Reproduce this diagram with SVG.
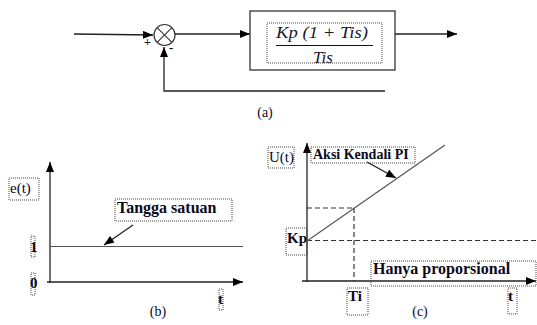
<svg xmlns="http://www.w3.org/2000/svg" width="537" height="325" viewBox="0 0 537 325">
<style>
.ln{stroke:#222;stroke-width:1.3;fill:none}
.gl{stroke:#555;stroke-width:1.2;fill:none}
.dash{stroke:#333;stroke-width:1.2;fill:none;stroke-dasharray:5,3}
.dot{stroke:#333;stroke-width:0.9;fill:none;stroke-dasharray:1,1}
.lb{font-family:"Liberation Serif",serif;fill:#0a0a1e}
.b{font-weight:bold}
.m{font-family:"Liberation Serif",serif;font-style:italic;fill:#1a1a2e}
</style>
<defs>
<marker id="ah" viewBox="0 0 10 8" refX="10" refY="4" markerWidth="11" markerHeight="8" markerUnits="userSpaceOnUse" orient="auto">
<path d="M0,0 L10,4 L0,8 Z" fill="#000"/>
</marker>
</defs>
<rect width="537" height="325" fill="#fff"/>

<g id="connectors">
<line class="ln" x1="74" y1="34" x2="153" y2="35" marker-end="url(#ah)"/>
<line class="ln" x1="175" y1="34" x2="250" y2="34" marker-end="url(#ah)"/>
<line class="ln" x1="395" y1="34" x2="457" y2="34" marker-end="url(#ah)"/>
<polyline class="ln" points="385,91 164,91 164,47" marker-end="url(#ah)"/>
</g>

<g id="sum">
<circle cx="164.5" cy="35" r="10.5" fill="#fff" stroke="#333" stroke-width="1.2"/>
<line x1="157.1" y1="27.6" x2="171.9" y2="42.4" stroke="#333" stroke-width="1.1"/>
<line x1="171.9" y1="27.6" x2="157.1" y2="42.4" stroke="#333" stroke-width="1.1"/>
<text class="lb b" x="144" y="46" font-size="12">+</text>
<text class="lb b" x="169" y="52" font-size="13">-</text>
</g>

<g id="controller">
<rect x="250" y="11" width="145" height="59" fill="#fff" stroke="#333" stroke-width="1.3"/>
<rect class="dot" x="267" y="23" width="115" height="40"/>
<text class="m" x="276" y="38" font-size="17" textLength="92" lengthAdjust="spacingAndGlyphs">Kp (1 + Tis)</text>
<line x1="276" y1="45.5" x2="373" y2="45.5" stroke="#111" stroke-width="1.2"/>
<text class="m" x="323" y="63" font-size="17" text-anchor="middle">Tis</text>
</g>

<text class="lb" x="265" y="117" font-size="14" text-anchor="middle">(a)</text>

<g id="plot-b">
<line class="ln" x1="50" y1="283" x2="50" y2="162" marker-end="url(#ah)"/>
<line class="ln" x1="47" y1="282" x2="243" y2="282" marker-end="url(#ah)"/>
<line class="gl" x1="50" y1="246.5" x2="243" y2="246.5"/>
<line class="ln" x1="133" y1="225" x2="104" y2="245" marker-end="url(#ah)"/>
<rect class="dot" x="9" y="178" width="30" height="22"/>
<text class="lb" x="10" y="193" font-size="15">e(t)</text>
<rect class="dot" x="115" y="199" width="117" height="22"/>
<text class="lb b" x="117" y="213" font-size="16">Tangga satuan</text>
<rect class="dot" x="31" y="236" width="4" height="21"/>
<text class="lb b" x="30" y="252" font-size="15">1</text>
<rect class="dot" x="31" y="273" width="4" height="22"/>
<text class="lb b" x="30" y="288" font-size="15">0</text>
<rect class="dot" x="219" y="289" width="4" height="21"/>
<text class="lb b" x="218" y="304" font-size="15">t</text>
<text class="lb" x="158" y="316" font-size="14" text-anchor="middle">(b)</text>
</g>

<g id="plot-c">
<line class="dash" x1="307" y1="240.5" x2="537" y2="240.5"/>
<line class="dash" x1="307" y1="208" x2="354" y2="208"/>
<line class="dash" x1="354" y1="208" x2="354" y2="281"/>
<line class="ln" x1="307" y1="282" x2="307" y2="143" marker-end="url(#ah)"/>
<line class="ln" x1="302" y1="281" x2="536" y2="281" marker-end="url(#ah)"/>
<line class="gl" x1="307" y1="241" x2="445" y2="145"/>
<line class="ln" x1="367" y1="162" x2="396" y2="178" marker-end="url(#ah)"/>
<rect class="dot" x="268" y="147" width="26" height="21"/>
<text class="lb" x="269" y="162" font-size="15">U(t)</text>
<rect class="dot" x="311" y="147" width="104" height="16"/>
<text class="lb b" x="313" y="159" font-size="14">Aksi Kendali PI</text>
<rect class="dot" x="286" y="228" width="21" height="27"/>
<text class="lb b" x="287" y="243" font-size="15">Kp</text>
<rect class="dot" x="371" y="261" width="165" height="25"/>
<text class="lb b" x="373" y="274" font-size="16">Hanya proporsional</text>
<rect class="dot" x="347" y="288" width="21" height="27"/>
<text class="lb b" x="348" y="301" font-size="15">Ti</text>
<rect class="dot" x="508" y="288" width="9" height="26"/>
<text class="lb b" x="508" y="301" font-size="15">t</text>
<text class="lb" x="420" y="316" font-size="14" text-anchor="middle">(c)</text>
</g>
</svg>
